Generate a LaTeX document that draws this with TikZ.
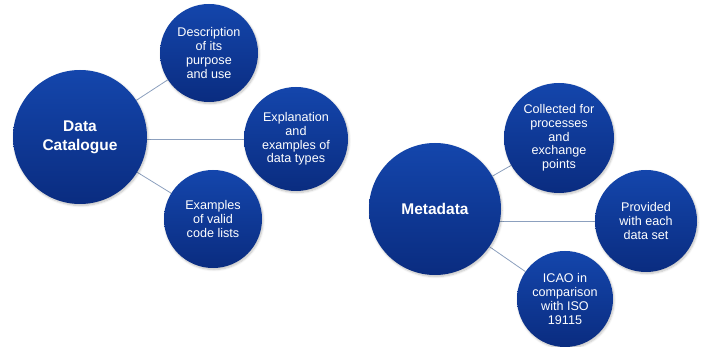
\documentclass[tikz,border=0pt]{standalone}
\usepackage{fontspec}
\setmainfont{Liberation Sans}
\usetikzlibrary{backgrounds,shadows.blur}
\definecolor{circtop}{RGB}{20,70,172}
\definecolor{circbot}{RGB}{10,44,128}
\definecolor{linkcol}{RGB}{140,160,190}
\tikzset{
  bubble/.style={circle, inner sep=0pt, top color=circtop, bottom color=circbot,
    draw=none, text=white, align=center, blur shadow={shadow xshift=1pt, shadow yshift=-1.5pt, shadow blur steps=6, shadow opacity=25}},
  big/.style={bubble, font=\fontsize{15.5}{19}\selectfont\bfseries},
  small/.style={bubble, font=\fontsize{12.6}{13.7}\selectfont},
  link/.style={draw=linkcol, line width=0.8pt}
}
\begin{document}
\begin{tikzpicture}[x=1pt,y=-1pt]
\useasboundingbox (0,0) rectangle (702,347);
\node[big, minimum size=134pt] (dc) at (80,137) {Data\\Catalogue};
\node[small, minimum size=98pt] (desc) at (209,53) {Description\\of its\\purpose\\and use};
\node[small, minimum size=104pt] (expl) at (296,139) {Explanation\\and\\examples of\\data types};
\node[small, minimum size=98pt] (exa) at (213,219) {Examples\\of valid\\code lists};
\node[big, minimum size=132pt] (md) at (435,209) {Metadata};
\node[small, minimum size=110pt] (coll) at (559,138) {Collected for\\processes\\and\\exchange\\points};
\node[small, minimum size=102pt] (prov) at (646,221) {Provided\\with each\\data set};
\node[small, minimum size=96pt] (icao) at (565,299) {ICAO in\\comparison\\with ISO\\19115};
\begin{scope}[on background layer]
\draw[link] (dc) -- (desc);
\draw[link] (dc.center |- expl.center) -- (expl.center);
\draw[link] (dc) -- (exa);
\draw[link] (md) -- (coll);
\draw[link] (md.center |- prov.center) -- (prov.center);
\draw[link] (md) -- (icao);
\end{scope}
\end{tikzpicture}
\end{document}
